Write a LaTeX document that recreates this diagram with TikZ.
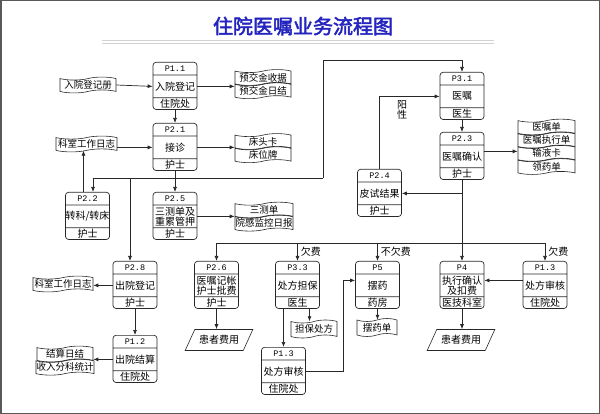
\documentclass[tikz,border=0pt]{standalone}
\usepackage{fontspec}
\setmainfont{Noto Sans CJK SC}
\setmonofont{Liberation Mono}
\newfontfamily\titlefont[FakeBold=2.5]{Noto Sans CJK SC}
\usetikzlibrary{shapes.multipart,shapes.symbols,shapes.geometric,arrows.meta,positioning}

\definecolor{titleblue}{RGB}{36,36,190}
\definecolor{lineclr}{RGB}{40,40,40}

% three parts of a process box
\newcommand\pid[1]{\parbox[c][12pt][c]{44pt}{\centering\ttfamily\fontsize{8.5}{8.5}\selectfont #1}}
\newcommand\pmain[1]{\parbox[c][22pt][c]{44pt}{\centering\fontsize{10}{10}\selectfont #1}}
\newcommand\pdept[1]{\parbox[c][11pt][c]{44pt}{\centering\fontsize{10}{10}\selectfont #1}}

\tikzset{
  proc/.style={rectangle split, rectangle split parts=3, draw=lineclr, rounded corners=3pt,
    inner sep=0pt, anchor=north, line width=0.7pt},
  store/.style={tape, draw=lineclr, tape bend height=3pt, minimum width=#1, minimum height=14pt,
    inner sep=0.5pt, line width=0.6pt, font=\fontsize{9.5}{10}\selectfont},
  store/.default=56pt,
  fee/.style={trapezium, trapezium left angle=60, trapezium right angle=120, trapezium stretches=true,
    draw=lineclr, line width=0.6pt, minimum width=68pt, minimum height=21pt, font=\fontsize{10}{10}\selectfont},
  arw/.style={-{Latex[length=5pt,width=4pt]}, draw=lineclr, line width=0.7pt},
  wire/.style={draw=lineclr, line width=0.7pt},
  lbl/.style={font=\fontsize{10}{10}\selectfont, inner sep=1pt}
}

\begin{document}
\begin{tikzpicture}[x=1pt,y=-1pt]
  \useasboundingbox (0,0) rectangle (600,414);
  \draw[gray!70!black, line width=1.5pt] (0.75,0.75) rectangle (599.25,413.25);

  % Title
  \node[text=titleblue, font=\titlefont\fontsize{20}{20}\selectfont] (title) at (303,26) {住院医嘱业务流程图};
  \draw[gray!35, line width=1pt] (102,41) -- (494,41);
  \draw[gray!35, line width=1pt] (102,43.5) -- (494,43.5);

  % Processes
  \node[proc] (p11) at (175,62) {\pid{P1.1}\nodepart{two}\pmain{入院登记}\nodepart{three}\pdept{住院处}};
  \node[proc] (p21) at (175,123) {\pid{P2.1}\nodepart{two}\pmain{接诊}\nodepart{three}\pdept{护士}};
  \node[proc] (p31) at (462,72) {\pid{P3.1}\nodepart{two}\pmain{医嘱}\nodepart{three}\pdept{医生}};
  \node[proc] (p23) at (462,132) {\pid{P2.3}\nodepart{two}\pmain{医嘱确认}\nodepart{three}\pdept{护士}};
  \node[proc] (p24) at (379.5,169) {\pid{P2.4}\nodepart{two}\pmain{皮试结果}\nodepart{three}\pdept{护士}};
  \node[proc] (p22) at (87.5,192) {\pid{P2.2}\nodepart{two}\pmain{转科/转床}\nodepart{three}\pdept{护士}};
  \node[proc] (p25) at (175,192) {\pid{P2.5}\nodepart{two}\pmain{三测单及\\重累管押}\nodepart{three}\pdept{护士}};
  \node[proc] (p28) at (135,261) {\pid{P2.8}\nodepart{two}\pmain{出院登记}\nodepart{three}\pdept{护士}};
  \node[proc] (p12) at (135,335) {\pid{P1.2}\nodepart{two}\pmain{出院结算}\nodepart{three}\pdept{住院处}};
  \node[proc] (p26) at (216.5,261) {\pid{P2.6}\nodepart{two}\pmain{医嘱记帐\\护士批费}\nodepart{three}\pdept{护士}};
  \node[proc] (p33) at (297.5,261) {\pid{P3.3}\nodepart{two}\pmain{处方担保}\nodepart{three}\pdept{医生}};
  \node[proc] (p13b) at (283.5,347) {\pid{P1.3}\nodepart{two}\pmain{处方审核}\nodepart{three}\pdept{住院处}};
  \node[proc] (p5) at (377.5,261) {\pid{P5}\nodepart{two}\pmain{摆药}\nodepart{three}\pdept{药房}};
  \node[proc] (p4) at (462,261) {\pid{P4}\nodepart{two}\pmain{执行确认\\及扣费}\nodepart{three}\pdept{医技科室}};
  \node[proc] (p13a) at (545,261) {\pid{P1.3}\nodepart{two}\pmain{处方审核}\nodepart{three}\pdept{住院处}};

  % Data stores
  \node[store] (rydj) at (88,85) {入院登记册};
  \node[store=61pt] (log1) at (86.5,144) {科室工作日志};
  \node[store] (pj1) at (263,77.5) {预交金收据};
  \node[store, below=0pt of pj1] (pj2) {预交金日结};
  \node[store] (ct1) at (263,141.5) {床头卡};
  \node[store, below=0pt of ct1] (ct2) {床位牌};
  \node[store=58pt] (ss1) at (264,210) {三测单};
  \node[store=58pt, below=0pt of ss1] (ss2) {院感监控日报};
  \node[store=57pt] (yz1) at (546.5,127) {医嘱单};
  \node[store=57pt, below=0pt of yz1] (yz2) {医嘱执行单};
  \node[store=57pt, below=0pt of yz2] (yz3) {输液卡};
  \node[store=57pt, below=0pt of yz3] (yz4) {领药单};
  \node[store=60pt] (log2) at (63,284) {科室工作日志};
  \node[store] (js1) at (65,354) {结算日结};
  \node[store, below=0pt of js1] (js2) {收入分科统计};
  \node[store=46pt, minimum height=18pt] (dbcf) at (314,329) {担保处方};
  \node[store=40pt, minimum height=18pt] (byd) at (377,327.5) {摆药单};
  \node[fee] (hz1) at (219,340) {患者费用};
  \node[fee] (hz2) at (461,340) {患者费用};

  % Upper flows
  \draw[arw] (rydj.east) -- (p11.two west);
  \draw[arw] (p11.two east) -- (p11.two east -| pj1.west);
  \draw[arw] (p11.south) -- (p21.north);
  \draw[arw] (log1.east |- p21.two west) -- (p21.two west);
  \draw[arw] (p21.two east) -- (p21.two east -| ct1.west);

  % Bus under P2.1
  \coordinate (bus1w) at (93,178);
  \coordinate (bus1d) at (130,178);
  \coordinate (bus1e) at (323,178);
  \draw[wire] (bus1w) -- (bus1e);
  \draw[arw] (p21.south) -- (p25.north);
  \draw[arw] (bus1w) -- (bus1w |- p22.north);
  \draw[arw] (bus1d) -- (bus1d |- p28.north);
  \draw[arw] (bus1e) -- ++(0,-118) -| (p31.north);
  \draw[arw] ([xshift=-4pt]p22.north) -- ([xshift=-4pt]p22.north |- log1.south);
  \draw[arw] (p25.two east) -- (p25.two east -| ss1.west);

  % Doctor orders
  \draw[arw] (p31.south) -- (p23.north);
  \draw[arw] ([yshift=5pt]p23.two east) -- ([yshift=5pt]p23.two east -| yz2.west);
  \draw[arw] (p24.north) |- (p31.two west);
  \node[lbl, align=center] (yx) at (402,110) {阳\\性};
  \draw[arw] (p23.south) -- (p4.north);
  \draw[arw] (p23.south |- p24.two east) -- (p24.two east);

  % Bus over the lower row
  \coordinate (bus2w) at (216.5,243);
  \coordinate (bus2e) at (545,243);
  \draw[wire] (bus2w) -- (bus2e);
  \draw[arw] (bus2w) -- (p26.north);
  \draw[arw] (bus2w -| p33.north) -- (p33.north) node[lbl, midway, right=2pt] {欠费};
  \draw[arw] (bus2w -| p5.north) -- (p5.north) node[lbl, midway, right=2pt] {不欠费};
  \draw[arw] (bus2e) -- (p13a.north) node[lbl, midway, right=2pt] {欠费};

  % Lower flows
  \draw[arw] (p26.south) -- (p26.south |- hz1.north);
  \draw[arw] (p33.south -| p13b.north) -- (p13b.north);
  \draw[arw] ([xshift=12pt]p33.south) -- ([xshift=12pt]p33.south |- dbcf.north);
  \draw[arw] (p13b.two east) -- ++(37,0) |- ([yshift=5pt]p5.two west);
  \draw[arw] (p5.south) -- (p5.south |- byd.north);
  \draw[arw] (p4.south) -- (p4.south |- hz2.north);
  \draw[arw] ([yshift=5pt]p13a.two west) -- ([yshift=5pt]p4.two east);

  % Discharge
  \draw[arw] (p28.two west) -- (p28.two west -| log2.east);
  \draw[arw] (p28.south) -- (p12.north);
  \draw[arw] (p12.two west) -- (p12.two west -| js1.east);
\end{tikzpicture}
\end{document}
